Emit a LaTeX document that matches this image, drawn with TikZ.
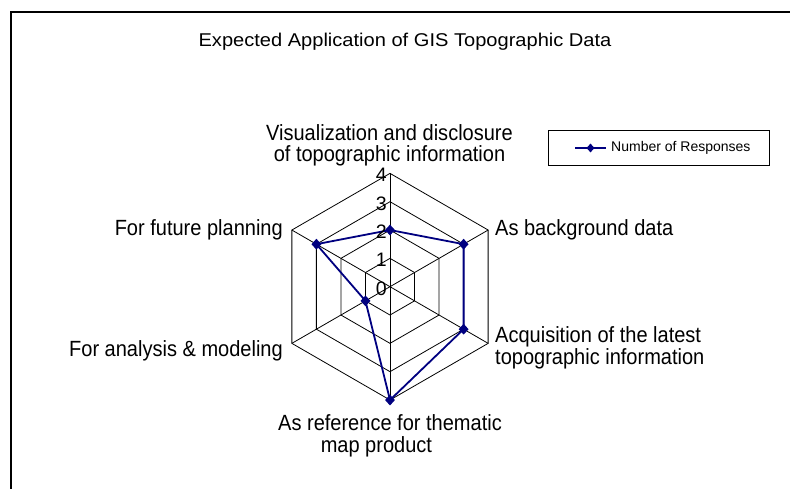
\documentclass[tikz,border=0pt]{standalone}
\usepackage{fontspec}
\setmainfont{Liberation Sans}
\newfontfamily\labfont[FakeStretch=0.91]{Liberation Sans}
\newfontfamily\titlefont[FakeStretch=1.085]{Liberation Sans}
\usetikzlibrary{shapes.geometric}
\definecolor{navy}{RGB}{0,0,128}
\begin{document}
\begin{tikzpicture}[x=1pt,y=1pt,
  lab/.style={font=\labfont\fontsize{22}{22}\selectfont, inner sep=0pt},
  ticklab/.style={font=\fontsize{19.5}{19.5}\selectfont, inner sep=0pt, anchor=base east},
  gridline/.style={draw=black, line width=0.8pt},
  series/.style={draw=navy, line width=1.8pt},
  dmark/.style={diamond, fill=navy, inner sep=0pt, minimum width=10pt, minimum height=11pt},
  lmark/.style={diamond, fill=navy, inner sep=0pt, minimum width=8pt, minimum height=9pt}]
\useasboundingbox (0,0) rectangle (790,489);
\fill[white] (0,0) rectangle (790,489);
\draw[line width=1.5pt] (11,0) -- (11,477) -- (790,477);
\node[font=\titlefont\fontsize{18.5}{18.5}\selectfont, anchor=base, inner sep=0pt] (title) at (405,442.3) {Expected Application of GIS Topographic Data};
\coordinate (O) at (390,202.3);
\begin{scope}[shift={(390,202.3)}]
  \foreach \k in {1,2,3,4} {
    \draw[gridline] (90:\k*28.33) -- (30:\k*28.33) -- (-30:\k*28.33) -- (-90:\k*28.33) -- (-150:\k*28.33) -- (150:\k*28.33) -- cycle;
  }
  \foreach \a [count=\i] in {90,30,-30,-90,-150,150} {
    \coordinate (a\i) at (\a:113.33);
    \draw[gridline] (O) -- (a\i);
  }
  \coordinate (d1) at (90:56.67);
  \coordinate (d2) at (30:85);
  \coordinate (d3) at (-30:85);
  \coordinate (d4) at (-90:113.33);
  \coordinate (d5) at (-150:28.33);
  \coordinate (d6) at (150:85);
\end{scope}
\draw[series, line join=round] (d1) -- (d2) -- (d3) -- (d4) -- (d5) -- (d6) -- cycle;
\foreach \i in {1,...,6} { \node[dmark] (m\i) at (d\i) {}; }
\foreach \k in {0,1,2,3,4} {
  \node[ticklab] (t\k) at (387, 202.3+\k*28.33-8.5) {\k};
}
\node[lab, anchor=base] (l1a) at (389.5,348) {Visualization and disclosure};
\node[lab, anchor=base] (l1b) at (389.5,327) {of topographic information};
\node[lab, anchor=base west] (l2) at (495,253) {As background data};
\node[lab, anchor=base west] (l3a) at (495,146) {Acquisition of the latest};
\node[lab, anchor=base west] (l3b) at (495,124) {topographic information};
\node[lab, anchor=base] (l4a) at (390,58.3) {As reference for thematic};
\node[lab, anchor=base] (l4b) at (376.4,36) {map product};
\node[lab, anchor=base east] (l5) at (283,132.3) {For analysis \& modeling};
\node[lab, anchor=base east] (l6) at (283,253) {For future planning};
\node[draw, line width=0.8pt, minimum width=221pt, minimum height=35pt, inner sep=0pt] (legend) at (658.5,341.5) {};
\coordinate (ls) at (575,341);
\coordinate (le) at (606,341);
\draw[series, line width=1.5pt] (ls) -- (le);
\node[lmark] (lm) at (590.5,341) {};
\node[font=\fontsize{14}{14}\selectfont, anchor=west, inner sep=0pt] (legtext) at (611,341) {Number of Responses};
\end{tikzpicture}
\end{document}
